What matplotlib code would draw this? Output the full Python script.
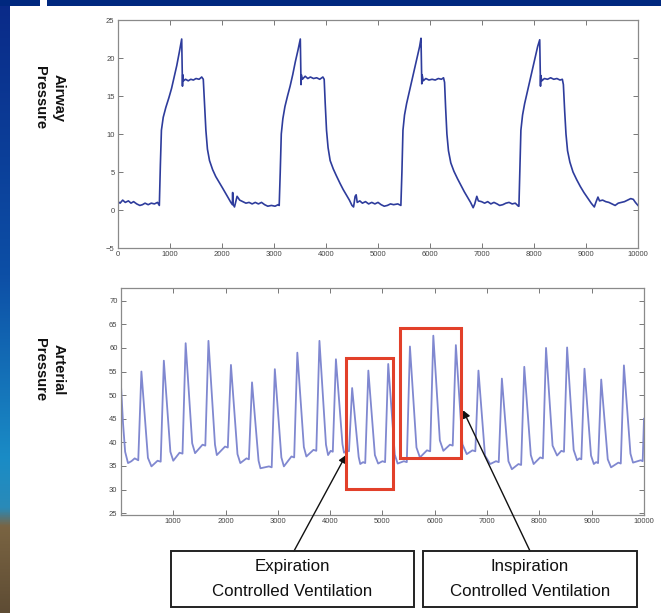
import numpy as np
import matplotlib
matplotlib.use("Agg")
import matplotlib.pyplot as plt
from matplotlib.patches import Rectangle
from matplotlib.colors import LinearSegmentedColormap

# ---------------- data ----------------
airway_t = [0, 40, 90, 140, 200, 250, 300, 360, 420, 470, 520, 580, 640, 700, 760, 795,
            815, 835, 870, 920, 980, 1030, 1080, 1130, 1180, 1225, 1240, 1245, 1260, 1300,
            1350, 1400, 1450, 1500, 1560, 1610, 1640, 1660, 1690, 1720, 1760, 1820, 1880,
            1950, 2010, 2070, 2120, 2170, 2200, 2205, 2210, 2240, 2290, 2340, 2400, 2460,
            2520, 2580, 2640, 2700, 2760, 2820, 2880, 2950, 3020, 3080, 3100,
            3120, 3140, 3170, 3210, 3260, 3310, 3360, 3410, 3460, 3506, 3520, 3525, 3545,
            3600, 3650, 3700, 3760, 3820, 3880, 3940, 3965, 3985, 4010, 4040, 4080, 4140,
            4200, 4270, 4330, 4390, 4450, 4500, 4530, 4560, 4580, 4600, 4650, 4700, 4760,
            4820, 4880, 4940, 5000, 5060, 5120, 5180, 5240, 5300, 5380, 5440,
            5460, 5480, 5510, 5550, 5600, 5650, 5700, 5750, 5800, 5827, 5842, 5848, 5870,
            5920, 5980, 6040, 6100, 6160, 6220, 6260, 6280, 6300, 6325, 6355, 6400, 6460,
            6530, 6600, 6660, 6720, 6780, 6830, 6860, 6900, 6930, 6990, 7050, 7110, 7170,
            7230, 7290, 7340, 7400, 7460, 7520, 7580, 7640, 7700,
            7710, 7728, 7748, 7780, 7820, 7870, 7920, 7970, 8020, 8070, 8110, 8125, 8130,
            8150, 8200, 8260, 8320, 8380, 8440, 8500, 8545, 8565, 8590, 8615, 8645, 8690,
            8750, 8820, 8890, 8960, 9030, 9100, 9160, 9190, 9230, 9260, 9320, 9380, 9440,
            9500, 9560, 9620, 9680, 9740, 9800, 9860, 9910, 9950, 10000]
airway_p = [1.1, 0.9, 1.3, 1.0, 1.2, 0.9, 1.1, 0.8, 0.6, 0.7, 0.9, 0.7, 0.9, 0.8, 1.0, 0.6,
            6.0, 10.5, 12.2, 13.5, 14.8, 16.0, 17.5, 19.0, 20.8, 22.5, 16.3, 17.8, 17.0, 17.2,
            17.0, 17.2, 17.1, 17.3, 17.2, 17.5, 17.2, 14.5, 10.5, 8.0, 6.5, 5.3, 4.4,
            3.6, 2.9, 2.2, 1.6, 1.0, 0.7, 2.3, 0.8, 0.4, 1.8, 1.3, 1.1, 0.9,
            1.0, 0.8, 1.0, 0.8, 1.0, 0.7, 0.5, 0.6, 0.5, 0.7, 0.6,
            5.0, 10.0, 12.0, 13.6, 15.0, 16.3, 17.8, 19.5, 21.0, 22.5, 16.5, 17.8, 17.2,
            17.6, 17.3, 17.5, 17.3, 17.4, 17.2, 17.5, 17.2, 14.0, 10.5, 8.2, 6.5, 5.4,
            4.5, 3.5, 2.7, 2.0, 1.3, 0.6, 0.4, 1.8, 2.0, 1.0, 1.2, 0.9, 1.1,
            0.8, 1.0, 0.8, 1.0, 0.7, 0.5, 0.6, 0.8, 0.7, 0.8, 0.6,
            5.0, 10.5, 12.5, 14.0, 15.5, 17.0, 18.5, 20.0, 21.5, 22.6, 16.6, 17.8, 17.0,
            17.3, 17.1, 17.2, 17.1, 17.3, 17.2, 17.4, 16.8, 13.5, 10.0, 7.8, 6.2, 5.1,
            4.1, 3.2, 2.4, 1.7, 1.0, 0.3, 0.8, 1.8, 1.2, 1.1, 0.9, 1.1, 0.8,
            1.0, 0.8, 0.6, 0.7, 0.9, 1.0, 0.8, 0.9, 0.5,
            0.5, 5.0, 10.5, 12.5, 14.0, 15.5, 17.0, 18.5, 20.0, 21.5, 22.4, 16.3, 17.7,
            17.0, 17.3, 17.2, 17.4, 17.2, 17.3, 17.1, 17.2, 16.5, 13.0, 10.0, 7.8, 6.3,
            5.0, 4.0, 3.1, 2.3, 1.6, 0.9, 0.4, 1.0, 1.7, 1.2, 1.3, 1.1, 1.0,
            0.8, 0.6, 0.9, 1.0, 1.1, 1.3, 1.5, 1.4, 1.0, 0.6]

# arterial pressure: start segment, then per beat:
# shoulder -> foot -> peak -> knee1 -> knee2 -> trough
art_start_t = [0, 40, 80, 135, 200, 263]
art_start_v = [52.2, 44.0, 38.0, 35.6, 36.0, 36.6]
art_peak_t = [391, 820, 1237, 1673, 2103, 2506, 2942, 3372, 3795, 4110, 4420, 4730,
              5110, 5525, 5972, 6403, 6835, 7283, 7711, 8127, 8530, 8862, 9182, 9616]
art_peak_v = [55.0, 57.3, 61.0, 61.5, 56.4, 52.7, 55.5, 59.0, 61.5, 57.6, 51.5, 55.2,
              56.6, 60.3, 62.6, 60.6, 55.2, 53.5, 56.0, 60.0, 60.1, 55.6, 53.3, 56.3]
art_foot_t = [331, 760, 1177, 1613, 2043, 2446, 2882, 3312, 3735, 4050, 4360, 4670,
              5050, 5465, 5912, 6343, 6775, 7223, 7651, 8067, 8470, 8802, 9122, 9556]
art_foot_v = [36.2, 35.9, 37.6, 39.3, 38.9, 36.4, 34.7, 36.8, 38.2, 38.0, 38.1, 35.6,
              35.8, 35.8, 38.1, 39.3, 38.1, 35.8, 35.2, 36.6, 38.0, 36.4, 35.6, 35.5]
art_knee1_t = [466, 895, 1312, 1748, 2178, 2581, 3017, 3447, 3870, 4185, 4495, 4805,
               5185, 5600, 6047, 6478, 6910, 7358, 7786, 8202, 8605, 8937, 9257, 9691]
art_knee1_v = [43.9, 45.6, 48.3, 48.2, 45.0, 42.7, 44.2, 46.9, 48.2, 46.7, 42.6, 44.4,
               45.0, 47.4, 49.2, 47.9, 44.3, 42.9, 44.7, 47.5, 47.0, 44.5, 43.1, 45.0]
art_knee2_v = [36.7, 38.0, 39.8, 39.5, 37.5, 36.1, 36.8, 39.0, 39.5, 39.6, 36.9, 37.3,
               37.4, 38.9, 40.4, 39.6, 37.2, 36.0, 37.3, 39.3, 38.4, 37.2, 36.4, 37.6]
art_knee2_t = [516, 945, 1362, 1798, 2228, 2631, 3067, 3497, 3920, 4235, 4545, 4855,
               5235, 5650, 6097, 6528, 6960, 7408, 7836, 8252, 8655, 8987, 9307, 9741]
art_min_t = [583, 1000, 1417, 1833, 2282, 2667, 3115, 3545, 3960, 4265, 4575, 4917,
             5290, 5716, 6164, 6611, 7059, 7474, 7890, 8338, 8721, 9041, 9370, 9790]
art_min_v = [34.9, 36.1, 37.7, 37.3, 35.6, 34.5, 34.9, 37.0, 37.3, 37.8, 35.4, 35.5,
             35.5, 36.8, 38.2, 37.5, 35.4, 34.3, 35.4, 37.2, 36.2, 35.4, 34.7, 35.7]
art_sh_t = [700, 1120, 1560, 1990, 2400, 2830, 3260, 3680, 4010, 4320, 4630, 5000,
            5410, 5850, 6290, 6720, 7170, 7600, 8015, 8420, 8765, 9085, 9510]
art_sh_v = [36.1, 37.8, 39.5, 39.1, 36.6, 34.9, 37.0, 38.4, 38.2, 38.3, 35.8, 36.0,
            36.0, 38.3, 39.5, 38.3, 36.0, 35.4, 36.8, 38.2, 36.6, 35.8, 35.7]
art_end_t = [9936, 9975, 10000]
art_end_v = [36.2, 36.0, 45.0]

airway_yticks = [-5, 0, 5, 10, 15, 20, 25]
airway_xticks = [0, 1000, 2000, 3000, 4000, 5000, 6000, 7000, 8000, 9000, 10000]
art_yticks = [25, 30, 35, 40, 45, 50, 55, 60, 65, 70]
art_xticks = [1000, 2000, 3000, 4000, 5000, 6000, 7000, 8000, 9000, 10000]

exp_box = (4302, 5201, 30.1, 57.9)    # t0, t1, p0, p1
insp_box = (5335, 6501, 36.7, 64.2)
exp_tip = (4302, 37.3)
insp_tip = (6540, 46.8)

# build arterial polyline from the read key points
art_t = list(art_start_t)
art_v = list(art_start_v)
for i in range(len(art_peak_t)):
    if i > 0:
        art_t.append(art_sh_t[i - 1]); art_v.append(art_sh_v[i - 1])
    art_t += [art_foot_t[i], art_peak_t[i], art_knee1_t[i], art_knee2_t[i], art_min_t[i]]
    art_v += [art_foot_v[i], art_peak_v[i], art_knee1_v[i], art_knee2_v[i], art_min_v[i]]
art_t += art_end_t
art_v += art_end_v

# ---------------- figure ----------------
W, H = 661, 613
fig = plt.figure(figsize=(W / 100, H / 100), dpi=100, facecolor="white")

# slide background strips
cmap = LinearSegmentedColormap.from_list(
    "slide", [(0.0, "#0a2a88"), (0.45, "#0d4fa6"), (0.75, "#1a8cc6"),
              (0.83, "#2a8ab8"), (0.86, "#7a6442"), (1.0, "#5e4c34")])
bg = fig.add_axes([0, 0, 10 / W, 1])
bg.imshow(np.linspace(0, 1, 256).reshape(-1, 1), aspect="auto", cmap=cmap,
          extent=[0, 1, 0, 1], origin="upper")
bg.axis("off")
fig.patches.append(Rectangle((0, 1 - 6 / H), 1, 6 / H, transform=fig.transFigure,
                             facecolor="#00287f", edgecolor="none", zorder=5))
fig.patches.append(Rectangle((40 / W, 1 - 6 / H), 7 / W, 6 / H, transform=fig.transFigure,
                             facecolor="white", edgecolor="none", zorder=6))

tick_font = dict(fontsize=5.5, color="#444444", family="Liberation Sans")


def style(ax):
    for s in ax.spines.values():
        s.set_color("#8a8a8a")
        s.set_linewidth(0.9)
    ax.tick_params(direction="in", length=3.5, width=0.7, color="#777777",
                   top=True, right=True, pad=2.5)
    for lab in ax.get_xticklabels() + ax.get_yticklabels():
        lab.set_fontsize(tick_font["fontsize"])
        lab.set_color(tick_font["color"])
        lab.set_family(tick_font["family"])


# top axes: airway pressure
ax1 = fig.add_axes([118 / W, 1 - 248 / H, 520 / W, 228 / H])
ax1.plot(airway_t, airway_p, color="#2e3c9c", lw=1.2)
ax1.set_xlim(0, 10000)
ax1.set_ylim(-5, 25)
ax1.set_xticks(airway_xticks)
ax1.set_yticks(airway_yticks)
style(ax1)

# bottom axes: arterial pressure
ax2 = fig.add_axes([121 / W, 1 - 515 / H, 523 / W, 227 / H])
ax2.plot(art_t, art_v, color="#8088d0", lw=1.3, solid_joinstyle="round")
ax2.set_xlim(1, 10000)
ax2.set_ylim(24.6, 72.7)
ax2.set_xticks(art_xticks)
ax2.set_yticks(art_yticks)
style(ax2)

for (t0, t1, p0, p1) in (exp_box, insp_box):
    ax2.add_patch(Rectangle((t0, p0), t1 - t0, p1 - p0, fill=False,
                            edgecolor="#e2402a", lw=2.2, zorder=4))

# side labels
lab_font = dict(family="Liberation Sans", fontweight="bold", fontsize=10.5,
                color="#111111", rotation=-90, ha="center", va="center",
                linespacing=1.45, multialignment="center")
fig.text(49 / W, 1 - 98 / H, "Airway\nPressure", **lab_font)
fig.text(49 / W, 1 - 370 / H, "Arterial\nPressure", **lab_font)

# annotation boxes
box_font = dict(family=["Liberation Sans Narrow", "Liberation Sans"], fontsize=12.2,
                color="#111111", ha="center", va="center")
for (x0, x1, l1) in ((171, 414, "Expiration"), (423, 637, "Inspiration")):
    fig.patches.append(Rectangle((x0 / W, 1 - 607 / H), (x1 - x0) / W, 56 / H,
                                 transform=fig.transFigure, fill=False,
                                 edgecolor="#222222", lw=1.4, zorder=5))
    cx = (x0 + x1) / 2 / W
    fig.text(cx, 1 - 567 / H, l1, **box_font)
    fig.text(cx, 1 - 592 / H, "Controlled Ventilation", **box_font)

arrow = dict(arrowstyle="-|>", color="#111111", lw=1.0, mutation_scale=11,
             shrinkA=0, shrinkB=0)
ax2.annotate("", xy=exp_tip, xycoords="data", xytext=(294, H - 551),
             textcoords="figure pixels", arrowprops=arrow, annotation_clip=False)
ax2.annotate("", xy=insp_tip, xycoords="data", xytext=(530, H - 551),
             textcoords="figure pixels", arrowprops=arrow, annotation_clip=False)

fig.savefig("out.png", dpi=100, facecolor="white")
